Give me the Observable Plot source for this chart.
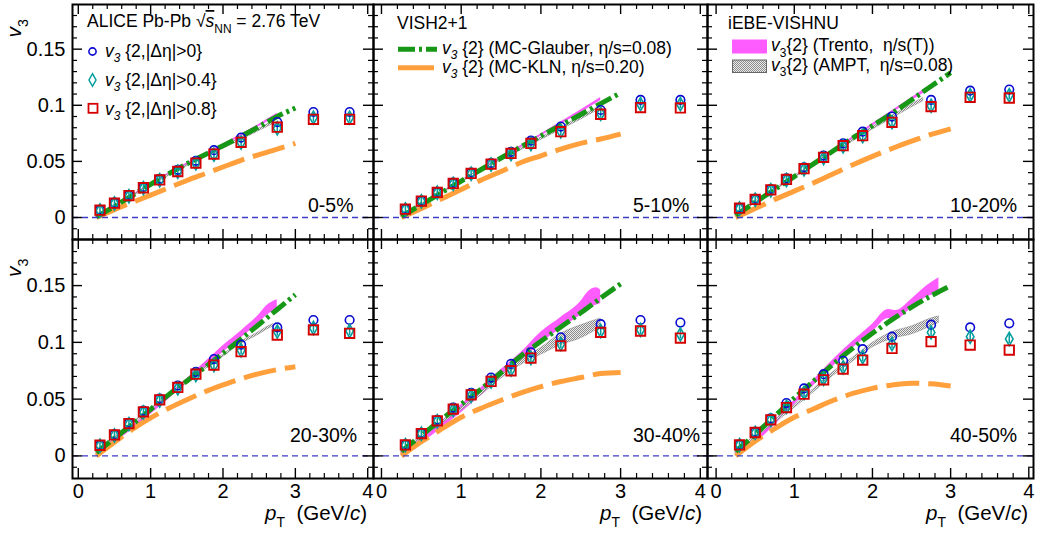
<!DOCTYPE html>
<html><head><meta charset="utf-8">
<script src="https://cdn.jsdelivr.net/npm/d3@7"></script>
<script src="https://cdn.jsdelivr.net/npm/@observablehq/plot@0.6"></script>
<style>
html,body{margin:0;padding:0;background:#fff;}
#chart{position:relative;width:1037px;height:534px;overflow:hidden;background:#fff;font-family:"Liberation Sans",Arial,Helvetica,sans-serif;}
.panel{position:absolute;}
</style></head>
<body>
<svg width="0" height="0" style="position:absolute">
  <defs>
    <pattern id="amptHatch" width="2" height="2" patternUnits="userSpaceOnUse">
      <rect width="2" height="2" fill="#ececec"/>
      <rect width="1" height="1" fill="#8a8a8a"/>
      <rect x="1" y="1" width="1" height="1" fill="#8a8a8a"/>
    </pattern>
  </defs>
</svg>
<div id="chart"></div>
<script>
// ---------------- data ----------------
const pT = [0.3, 0.5, 0.7, 0.9, 1.125, 1.375, 1.625, 1.875, 2.25, 2.75, 3.25, 3.75];
const centralityLabels = ["0-5%", "5-10%", "10-20%", "20-30%", "30-40%", "40-50%"];

// ALICE v3{2,|Δη|>0}
const v3Gap00 = [
  [0.0068, 0.0132, 0.0200, 0.0272, 0.0345, 0.0425, 0.0505, 0.0600, 0.0712, 0.0850, 0.0940, 0.0940],
  [0.0077, 0.0150, 0.0228, 0.0310, 0.0400, 0.0485, 0.0585, 0.0685, 0.0810, 0.0958, 0.1048, 0.1048],
  [0.0086, 0.0166, 0.0254, 0.0348, 0.0447, 0.0552, 0.0660, 0.0765, 0.0899, 0.1048, 0.1130, 0.1140],
  [0.0097, 0.0190, 0.0292, 0.0398, 0.0505, 0.0620, 0.0740, 0.0853, 0.0980, 0.1132, 0.1197, 0.1197],
  [0.0100, 0.0202, 0.0318, 0.0425, 0.0555, 0.0690, 0.0810, 0.0912, 0.1044, 0.1160, 0.1197, 0.1174],
  [0.0100, 0.0212, 0.0330, 0.0465, 0.0594, 0.0720, 0.0838, 0.0940, 0.1050, 0.1156, 0.1132, 0.1168]
];
// ALICE v3{2,|Δη|>0.4}
const v3Gap04 = [
  [0.0062, 0.0125, 0.0190, 0.0262, 0.0332, 0.0408, 0.0482, 0.0560, 0.0668, 0.0795, 0.0890, 0.0890],
  [0.0072, 0.0144, 0.0220, 0.0300, 0.0390, 0.0472, 0.0565, 0.0655, 0.0768, 0.0925, 0.1010, 0.1010],
  [0.0080, 0.0158, 0.0243, 0.0334, 0.0430, 0.0530, 0.0635, 0.0725, 0.0850, 0.0995, 0.1090, 0.1090],
  [0.0090, 0.0180, 0.0280, 0.0383, 0.0488, 0.0595, 0.0712, 0.0800, 0.0930, 0.1095, 0.1126, 0.1100],
  [0.0095, 0.0195, 0.0305, 0.0405, 0.0530, 0.0655, 0.0760, 0.0862, 0.0985, 0.1100, 0.1110, 0.1070],
  [0.0095, 0.0203, 0.0315, 0.0432, 0.0555, 0.0680, 0.0780, 0.0870, 0.0985, 0.1088, 0.1050, 0.1030]
];
const v3Gap04Err = [0.0045, 0.0042, 0.0040, 0.0040, 0.0040, 0.0040, 0.0040, 0.0040, 0.0040, 0.0040, 0.0040, 0.0040];
// ALICE v3{2,|Δη|>0.8}
const v3Gap08 = [
  [0.0065, 0.0128, 0.0195, 0.0265, 0.0335, 0.0410, 0.0485, 0.0565, 0.0670, 0.0805, 0.0875, 0.0875],
  [0.0074, 0.0146, 0.0223, 0.0304, 0.0393, 0.0476, 0.0571, 0.0660, 0.0765, 0.0920, 0.0980, 0.0976],
  [0.0083, 0.0161, 0.0247, 0.0339, 0.0435, 0.0536, 0.0640, 0.0729, 0.0848, 0.0988, 0.1071, 0.1065],
  [0.0094, 0.0185, 0.0285, 0.0388, 0.0494, 0.0603, 0.0720, 0.0800, 0.0918, 0.1065, 0.1110, 0.1080],
  [0.0097, 0.0197, 0.0309, 0.0412, 0.0538, 0.0656, 0.0750, 0.0862, 0.0970, 0.1088, 0.1100, 0.1038],
  [0.0097, 0.0206, 0.0318, 0.0426, 0.0544, 0.0670, 0.0765, 0.0844, 0.0947, 0.1006, 0.0976, 0.0932]
];

// VISH2+1 curves
const modelPt = [0.25, 0.5, 0.75, 1.0, 1.25, 1.5, 1.75, 2.0, 2.25, 2.5, 2.75, 3.0];
const glauberV3 = [
  [0.0005, 0.0100, 0.0198, 0.0295, 0.0390, 0.0478, 0.0560, 0.0640, 0.0723, 0.0810, 0.0900, 0.0975],
  [0.0010, 0.0115, 0.0220, 0.0325, 0.0428, 0.0530, 0.0630, 0.0727, 0.0822, 0.0918, 0.1015, 0.1110],
  [0.0020, 0.0135, 0.0250, 0.0365, 0.0480, 0.0595, 0.0710, 0.0818, 0.0928, 0.1048, 0.1170, 0.1290],
  [0.0030, 0.0155, 0.0280, 0.0410, 0.0540, 0.0660, 0.0780, 0.0905, 0.1030, 0.1160, 0.1290, 0.1420],
  [0.0040, 0.0180, 0.0320, 0.0455, 0.0590, 0.0735, 0.0880, 0.1010, 0.1135, 0.1260, 0.1390, 0.1515],
  [0.0040, 0.0190, 0.0350, 0.0510, 0.0660, 0.0810, 0.0950, 0.1080, 0.1200, 0.1310, 0.1410, 0.1500]
];
const klnV3 = [
  [0.0000, 0.0070, 0.0135, 0.0200, 0.0265, 0.0330, 0.0390, 0.0450, 0.0510, 0.0560, 0.0610, 0.0660],
  [0.0000, 0.0080, 0.0165, 0.0250, 0.0333, 0.0410, 0.0490, 0.0550, 0.0610, 0.0660, 0.0700, 0.0744],
  [0.0000, 0.0080, 0.0160, 0.0235, 0.0310, 0.0390, 0.0470, 0.0545, 0.0615, 0.0680, 0.0740, 0.0790],
  [0.0000, 0.0120, 0.0235, 0.0335, 0.0420, 0.0495, 0.0565, 0.0625, 0.0680, 0.0725, 0.0760, 0.0785],
  [0.0000, 0.0125, 0.0235, 0.0340, 0.0420, 0.0490, 0.0555, 0.0610, 0.0655, 0.0690, 0.0725, 0.0735],
  [0.0000, 0.0130, 0.0240, 0.0340, 0.0415, 0.0490, 0.0550, 0.0595, 0.0625, 0.0640, 0.0635, 0.0615]
];

// iEBE-VISHNU bands
const trentoPt = [
  [0.25, 0.5, 0.75, 1.0, 1.25, 1.5, 1.75, 2.0, 2.25, 2.5, 2.75],
  [0.25, 0.5, 0.75, 1.0, 1.25, 1.5, 1.75, 2.0, 2.25, 2.5, 2.75],
  [0.25, 0.5, 0.75, 1.0, 1.25, 1.5, 1.75, 2.0, 2.25, 2.5, 2.75],
  [0.25, 0.5, 0.75, 1.0, 1.25, 1.5, 1.75, 2.0, 2.25, 2.5, 2.6, 2.75],
  [0.25, 0.5, 0.75, 1.0, 1.25, 1.5, 1.75, 2.0, 2.25, 2.5, 2.6, 2.7, 2.75],
  [0.25, 0.5, 0.75, 1.0, 1.25, 1.5, 1.75, 2.0, 2.2, 2.3, 2.5, 2.7, 2.85]
];
const trentoLo = [
  [0.0000, 0.0090, 0.0188, 0.0285, 0.0380, 0.0468, 0.0552, 0.0635, 0.0720, 0.0810, 0.0905],
  [0.0004, 0.0105, 0.0210, 0.0314, 0.0418, 0.0521, 0.0623, 0.0725, 0.0828, 0.0932, 0.1040],
  [0.0012, 0.0122, 0.0237, 0.0352, 0.0466, 0.0582, 0.0700, 0.0813, 0.0928, 0.1040, 0.1150],
  [0.0005, 0.0115, 0.0235, 0.0365, 0.0500, 0.0640, 0.0775, 0.0910, 0.1040, 0.1170, 0.1235, 0.1290],
  [0.0000, 0.0110, 0.0240, 0.0380, 0.0530, 0.0680, 0.0830, 0.0990, 0.1120, 0.1240, 0.1300, 0.1330, 0.1340],
  [0.0000, 0.0110, 0.0270, 0.0450, 0.0620, 0.0790, 0.0950, 0.1090, 0.1210, 0.1200, 0.1300, 0.1400, 0.1430]
];
const trentoHi = [
  [0.0015, 0.0108, 0.0205, 0.0302, 0.0398, 0.0486, 0.0570, 0.0655, 0.0742, 0.0832, 0.0930],
  [0.0018, 0.0120, 0.0226, 0.0330, 0.0434, 0.0538, 0.0641, 0.0745, 0.0850, 0.0958, 0.1070],
  [0.0028, 0.0138, 0.0253, 0.0368, 0.0484, 0.0602, 0.0720, 0.0835, 0.0952, 0.1068, 0.1182],
  [0.0035, 0.0145, 0.0265, 0.0395, 0.0540, 0.0680, 0.0825, 0.0970, 0.1100, 0.1245, 0.1320, 0.1375],
  [0.0040, 0.0160, 0.0300, 0.0450, 0.0600, 0.0760, 0.0910, 0.1090, 0.1220, 0.1360, 0.1450, 0.1480, 0.1460],
  [0.0030, 0.0150, 0.0310, 0.0490, 0.0670, 0.0850, 0.1010, 0.1160, 0.1290, 0.1280, 0.1380, 0.1500, 0.1570]
];
const amptPt = [
  [0.25, 0.5, 0.75, 1.0, 1.25, 1.5, 1.75, 2.0, 2.25, 2.5, 2.7],
  [0.25, 0.5, 0.75, 1.0, 1.25, 1.5, 1.75, 2.0, 2.25, 2.5, 2.7],
  [0.25, 0.5, 0.75, 1.0, 1.25, 1.5, 1.75, 2.0, 2.25, 2.5, 2.65],
  [0.25, 0.5, 0.75, 1.0, 1.25, 1.5, 1.75, 2.0, 2.25, 2.5, 2.6, 2.7],
  [0.25, 0.5, 0.75, 1.0, 1.25, 1.5, 1.75, 2.0, 2.25, 2.5, 2.75],
  [0.25, 0.5, 0.75, 1.0, 1.25, 1.5, 1.75, 2.0, 2.25, 2.5, 2.75, 2.85]
];
const amptLo = [
  [0.0000, 0.0090, 0.0185, 0.0280, 0.0370, 0.0455, 0.0535, 0.0612, 0.0690, 0.0770, 0.0835],
  [0.0005, 0.0105, 0.0208, 0.0310, 0.0410, 0.0505, 0.0598, 0.0690, 0.0780, 0.0872, 0.0950],
  [0.0015, 0.0125, 0.0238, 0.0350, 0.0460, 0.0570, 0.0678, 0.0782, 0.0880, 0.0980, 0.1035],
  [0.0025, 0.0150, 0.0275, 0.0400, 0.0520, 0.0640, 0.0760, 0.0870, 0.0985, 0.1070, 0.1110, 0.1140],
  [0.0025, 0.0150, 0.0280, 0.0400, 0.0535, 0.0680, 0.0800, 0.0890, 0.0975, 0.1035, 0.1130],
  [0.0025, 0.0155, 0.0290, 0.0420, 0.0560, 0.0705, 0.0830, 0.0955, 0.1030, 0.1070, 0.1140, 0.1170]
];
const amptHi = [
  [0.0015, 0.0105, 0.0200, 0.0295, 0.0385, 0.0470, 0.0552, 0.0630, 0.0710, 0.0792, 0.0860],
  [0.0020, 0.0122, 0.0226, 0.0328, 0.0428, 0.0524, 0.0618, 0.0712, 0.0804, 0.0898, 0.0978],
  [0.0032, 0.0143, 0.0256, 0.0370, 0.0480, 0.0592, 0.0700, 0.0806, 0.0906, 0.1008, 0.1065],
  [0.0043, 0.0168, 0.0293, 0.0418, 0.0540, 0.0660, 0.0780, 0.0890, 0.1005, 0.1092, 0.1132, 0.1162],
  [0.0045, 0.0172, 0.0302, 0.0425, 0.0565, 0.0715, 0.0845, 0.0950, 0.1075, 0.1150, 0.1210],
  [0.0045, 0.0177, 0.0312, 0.0445, 0.0590, 0.0740, 0.0865, 0.0995, 0.1090, 0.1140, 0.1210, 0.1230]
];

// axis ticks
const yTicks = [0, 0.05, 0.1, 0.15];
const yMinorTicks = [-0.01, 0.01, 0.02, 0.03, 0.04, 0.06, 0.07, 0.08, 0.09, 0.11, 0.12, 0.13, 0.14, 0.16, 0.17, 0.18];
const xTicks = [0, 1, 2, 3, 4];
const xMinorTicks = [0.2, 0.4, 0.6, 0.8, 1.2, 1.4, 1.6, 1.8, 2.2, 2.4, 2.6, 2.8, 3.2, 3.4, 3.6, 3.8];

// ---------------- layout & style ----------------
const FONT = '"Liberation Sans", Arial, Helvetica, sans-serif';
const colX = [72, 373, 707, 1033];
const rowY = [4, 239, 478];
const xDomains = [[-0.08, 4.08], [-0.10, 4.09], [-0.11, 4.06]];
const yDomains = [[-0.0196, 0.1898], [-0.0199, 0.1906]];
const C = {
  blue: "#0a0ad0", teal: "#009e9e", red: "#d40000",
  green: "#169816", orange: "#ffa03c", magenta: "#ff5cff", zero: "#3c3cc4"
};
const greenDash = "17,4,3,4";
const orangeDash = "33,9";

const chart = document.getElementById("chart");

function makePanel(i) {
  const col = i % 3, row = Math.floor(i / 3);
  const W = colX[col + 1] - colX[col];
  const H = rowY[row + 1] - rowY[row];
  const pts = pT.map((x, k) => ({x, c: v3Gap00[i][k], d: v3Gap04[i][k], s: v3Gap08[i][k], e: v3Gap04Err[k]}));
  const glau = modelPt.map((x, k) => ({x, y: glauberV3[i][k]}));
  const kln = modelPt.map((x, k) => ({x, y: klnV3[i][k]}));
  const trento = trentoPt[i].map((x, k) => ({x, lo: trentoLo[i][k], hi: trentoHi[i][k]}));
  const ampt = amptPt[i].map((x, k) => ({x, lo: amptLo[i][k], hi: amptHi[i][k]}));

  const marks = [
    Plot.areaY(trento, {x: "x", y1: "lo", y2: "hi", fill: C.magenta, curve: "monotone-x"}),
    Plot.areaY(ampt, {x: "x", y1: "lo", y2: "hi", fill: "url(#amptHatch)", stroke: "#777", strokeWidth: 0.4, curve: "monotone-x"}),
    Plot.line(kln, {x: "x", y: "y", stroke: C.orange, strokeWidth: 5, strokeDasharray: orangeDash, strokeLinecap: "butt", curve: "monotone-x"}),
    Plot.line(glau, {x: "x", y: "y", stroke: C.green, strokeWidth: 5, strokeDasharray: greenDash, strokeLinecap: "butt", curve: "monotone-x"}),
    Plot.ruleY([0], {stroke: C.zero, strokeWidth: 1.3, strokeDasharray: "6,4"}),
    Plot.ruleX(pts, {x: "x", y1: d => d.d - d.e, y2: d => d.d + d.e, stroke: C.teal, strokeWidth: 1.5}),
    Plot.dot(pts, {x: "x", y: "c", symbol: "circle", r: 4.3, stroke: C.blue, strokeWidth: 1.6, fill: "none"}),
    Plot.dot(pts, {x: "x", y: "d", symbol: "diamond", r: 4.0, stroke: C.teal, strokeWidth: 1.6, fill: "none"}),
    Plot.dot(pts, {x: "x", y: "s", symbol: "square", r: 5.3, stroke: C.red, strokeWidth: 1.9, fill: "none"}),
    // inward ticks on all four sides
    Plot.ruleY(yTicks, {insetRight: W - 10, stroke: "#000", strokeWidth: 1.4}),
    Plot.ruleY(yTicks, {insetLeft: W - 10, stroke: "#000", strokeWidth: 1.4}),
    Plot.ruleY(yMinorTicks, {insetRight: W - 5, stroke: "#000", strokeWidth: 1.2}),
    Plot.ruleY(yMinorTicks, {insetLeft: W - 5, stroke: "#000", strokeWidth: 1.2}),
    Plot.ruleX(xTicks, {insetTop: H - 10, stroke: "#000", strokeWidth: 1.4}),
    Plot.ruleX(xTicks, {insetBottom: H - 10, stroke: "#000", strokeWidth: 1.4}),
    Plot.ruleX(xMinorTicks, {insetTop: H - 5, stroke: "#000", strokeWidth: 1.2}),
    Plot.ruleX(xMinorTicks, {insetBottom: H - 5, stroke: "#000", strokeWidth: 1.2}),
    Plot.frame({stroke: "#000", strokeWidth: 2})
  ];
  if (col === 0) {
    marks.push(Plot.axisY({anchor: "left", ticks: yTicks, tickSize: 0, tickPadding: 7, label: null,
      tickFormat: d => String(d), fontSize: 20, fontFamily: FONT}));
  }
  if (row === 1) {
    marks.push(Plot.axisX({anchor: "bottom", ticks: xTicks, tickSize: 0, tickPadding: 5, label: null,
      tickFormat: d => String(d), fontSize: 20, fontFamily: FONT}));
  }
  const svg = Plot.plot({
    width: W, height: H, margin: 0,
    x: {domain: xDomains[col], axis: null, label: null},
    y: {domain: yDomains[row], axis: null, label: null},
    style: {overflow: "visible", background: "transparent", fontFamily: FONT, fontSize: "20px", color: "#000"},
    marks
  });
  const wrap = document.createElement("div");
  wrap.className = "panel";
  wrap.style.left = colX[col] + "px";
  wrap.style.top = rowY[row] + "px";
  wrap.style.width = W + "px";
  wrap.style.height = H + "px";
  wrap.appendChild(svg);
  chart.appendChild(wrap);
}
for (let i = 0; i < 6; i++) makePanel(i);

// ---------------- text overlay ----------------
const ov = d3.select(chart).append("svg")
  .attr("width", 1037).attr("height", 534)
  .style("position", "absolute").style("left", "0px").style("top", "0px")
  .style("pointer-events", "none").style("overflow", "visible")
  .attr("font-family", FONT);

function rich(parent, x, y, segs, size, anchor = "start", transform = null) {
  const t = parent.append("text").attr("x", x).attr("y", y).attr("font-size", size)
    .attr("text-anchor", anchor).attr("fill", "#000").style("white-space", "pre");
  if (transform) t.attr("transform", transform);
  let cur = 0;
  for (const s of segs) {
    const off = s.sub ? size * 0.32 : 0;
    const ts = t.append("tspan").attr("dy", off - cur).text(s.t);
    cur = off;
    if (s.i) ts.attr("font-style", "italic");
    if (s.sub) ts.attr("font-size", size * 0.68);
    if (s.dx) ts.attr("dx", s.dx);
    if (s.over) ts.attr("text-decoration", "overline");
  }
  return t;
}

// panel 1 header and data legend
rich(ov, 87, 27, [{t: "ALICE Pb-Pb "}, {t: "√"}, {t: "s", i: true, over: true}, {t: "NN", sub: true}, {t: " = 2.76 TeV"}], 17.5);
const legY = [51.5, 80, 108.3];
ov.append("circle").attr("cx", 92.5).attr("cy", legY[0]).attr("r", 3.6).attr("fill", "none").attr("stroke", C.blue).attr("stroke-width", 1.6);
ov.append("path").attr("d", `M92.5,${legY[1]-6.3}L96,${legY[1]}L92.5,${legY[1]+6.3}L89,${legY[1]}Z`).attr("fill", "none").attr("stroke", C.teal).attr("stroke-width", 1.5);
ov.append("rect").attr("x", 88.5).attr("y", legY[2] - 4.5).attr("width", 9).attr("height", 9).attr("fill", "none").attr("stroke", C.red).attr("stroke-width", 1.8);
const gapLabels = [" {2,|Δη|>0}", " {2,|Δη|>0.4}", " {2,|Δη|>0.8}"];
gapLabels.forEach((g, k) => rich(ov, 105, [56.7, 85.5, 114.5][k], [{t: "v", i: true}, {t: "3", sub: true, i: true}, {t: g}], 17.5));

// panel 2 legend (VISH2+1)
rich(ov, 397, 28.5, [{t: "VISH2+1"}], 17.5);
ov.append("line").attr("x1", 398).attr("x2", 437).attr("y1", 49.3).attr("y2", 49.3)
  .attr("stroke", C.green).attr("stroke-width", 5).attr("stroke-dasharray", greenDash);
rich(ov, 442, 53.5, [{t: "v", i: true}, {t: "3", sub: true, i: true}, {t: " {2} (MC-Glauber, η/s=0.08)"}], 17.5);
ov.append("line").attr("x1", 398).attr("x2", 434).attr("y1", 67.7).attr("y2", 67.7)
  .attr("stroke", C.orange).attr("stroke-width", 5);
rich(ov, 442, 72.5, [{t: "v", i: true}, {t: "3", sub: true, i: true}, {t: " {2} (MC-KLN, η/s=0.20)"}], 17.5);

// panel 3 legend (iEBE-VISHNU)
rich(ov, 728, 28.5, [{t: "iEBE-VISHNU"}], 17.5);
ov.append("rect").attr("x", 732).attr("y", 39.5).attr("width", 35).attr("height", 14).attr("fill", C.magenta);
rich(ov, 771, 51, [{t: "v", i: true}, {t: "3", sub: true}, {t: "{2} (Trento,  η/s(T))"}], 17.5);
ov.append("rect").attr("x", 732.5).attr("y", 60).attr("width", 34).attr("height", 12.5).attr("fill", "url(#amptHatch)").attr("stroke", "#666").attr("stroke-width", 1);
rich(ov, 771, 70.5, [{t: "v", i: true}, {t: "3", sub: true}, {t: "{2} (AMPT,  η/s=0.08)"}], 17.5);

// centrality labels
const centX = [308, 633, 950, 290, 633, 950];
centralityLabels.forEach((lab, i) => rich(ov, centX[i], i < 3 ? 212 : 442, [{t: lab}], 19.5));

// y axis titles
[37.5, 277].forEach(y => rich(ov, 0, 0, [{t: "v", i: true}, {t: "3", sub: true}], 21, "start", `translate(21,${y}) rotate(-90)`));

// x axis titles
[367, 702, 1028].forEach(x => rich(ov, x, 520, [{t: "p", i: true}, {t: "T", sub: true}, {t: "  (GeV/"}, {t: "c", i: true}, {t: ")"}], 20.5, "end"));
</script>
</body></html>
